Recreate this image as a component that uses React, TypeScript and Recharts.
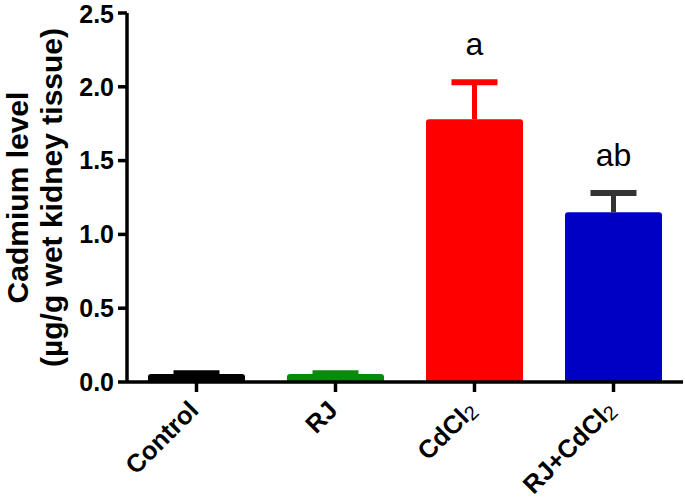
import { BarChart, Bar, XAxis, YAxis, Rectangle } from 'recharts';

const groups = ['Control', 'RJ', 'CdCl2', 'RJ+CdCl2'];
const means = [0.055, 0.055, 1.78, 1.15];
const sems = [0.005, 0.004, 0.25, 0.13];
const letters = ['', '', 'a', 'ab'];
const barColors = ['#000000', '#0a8a0a', '#ff0000', '#0000c4'];
const errColors = ['#000000', '#0a8a0a', '#ff0000', '#333333'];
const yTicks = [0, 0.5, 1, 1.5, 2, 2.5];

const data = groups.map((g, i) => ({
  group: g,
  value: means[i],
  err: sems[i],
  letter: letters[i],
  fill: barColors[i],
  errColor: errColors[i],
}));

const FONT = '"Liberation Sans", Arial, sans-serif';

// bar + upper error bar + significance letter
const BarWithError = (props: any) => {
  const { x, y, width, height, payload } = props;
  const k = height / payload.value;
  const cx = x + width / 2;
  const top = y - payload.err * k;
  return (
    <g>
      <Rectangle x={x} y={y} width={width} height={height} radius={[3, 3, 0, 0]} fill={payload.fill} />
      <line x1={cx} x2={cx} y1={y} y2={top} stroke={payload.errColor} strokeWidth={5} />
      <line x1={cx - 23} x2={cx + 23} y1={top} y2={top} stroke={payload.errColor} strokeWidth={6} />
      {payload.letter && (
        <text x={cx} y={top - 27} textAnchor="middle" fontSize={32} fontFamily={FONT} fill="#000">
          {payload.letter}
        </text>
      )}
    </g>
  );
};

const XTick = ({ x, y, payload }: any) => {
  const label: string = payload.value;
  const hasSub = label.endsWith('2');
  const main = hasSub ? label.slice(0, -1) : label;
  return (
    <g transform={`translate(${x},${y})`}>
      <text
        x={-10}
        y={15}
        transform="rotate(-45)"
        textAnchor="end"
        fontSize={25.5}
        fontWeight="bold"
        fontFamily={FONT}
        fill="#000"
      >
        {main}
        {hasSub && (
          <tspan fontSize={20} fontWeight="normal" dy={3}>
            2
          </tspan>
        )}
      </text>
    </g>
  );
};

const YLabel = ({ viewBox }: any) => {
  const cy = viewBox.y + viewBox.height / 2;
  const common = {
    textAnchor: 'middle' as const,
    fontSize: 30,
    fontWeight: 'bold' as const,
    fontFamily: FONT,
    fill: '#000',
  };
  return (
    <g>
      <text x={28} y={cy} transform={`rotate(-90, 28, ${cy})`} {...common}>
        Cadmium level
      </text>
      <text x={62} y={cy} transform={`rotate(-90, 62, ${cy})`} {...common}>
        (µg/g wet kidney tissue)
      </text>
    </g>
  );
};

export default function App() {
  return (
    <div style={{ position: 'absolute', left: 0, top: 0, background: '#fff' }}>
      <BarChart
        width={685}
        height={503}
        data={data}
        margin={{ top: 13, right: 2, left: 0, bottom: 0 }}
        barSize={97}
      >
        <XAxis
          dataKey="group"
          height={121}
          axisLine={{ stroke: '#000', strokeWidth: 3.5 }}
          tickLine={{ stroke: '#000', strokeWidth: 3.5 }}
          tickSize={10}
          tickMargin={2}
          tick={<XTick />}
          interval={0}
        />
        <YAxis
          width={127}
          domain={[0, 2.5]}
          ticks={yTicks}
          tickFormatter={(v: number) => v.toFixed(1)}
          axisLine={{ stroke: '#000', strokeWidth: 3.5 }}
          tickLine={{ stroke: '#000', strokeWidth: 3.5 }}
          tickSize={9}
          tickMargin={4}
          tick={{ fill: '#000', fontSize: 25, fontWeight: 'bold', fontFamily: FONT }}
          label={<YLabel />}
        />
        <Bar dataKey="value" shape={<BarWithError />} isAnimationActive={false} />
      </BarChart>
    </div>
  );
}
